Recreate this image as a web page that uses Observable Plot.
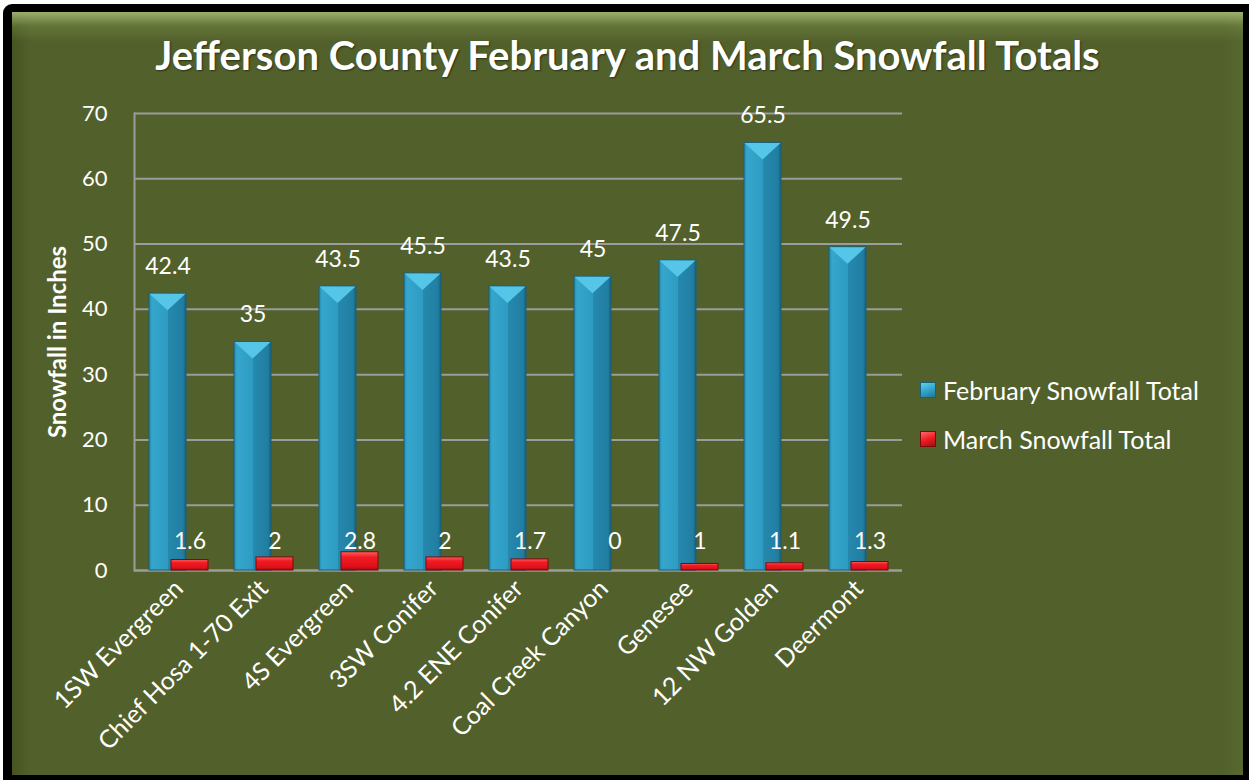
<!DOCTYPE html>
<html><head><meta charset="utf-8">
<script src="https://cdn.jsdelivr.net/npm/d3@7"></script>
<script src="https://cdn.jsdelivr.net/npm/@observablehq/plot@0.6"></script>
<style>
body{margin:0;background:#fff;width:1249px;height:780px;overflow:hidden;font-family:Lato,"Open Sans",sans-serif;position:relative;}
#frame{position:absolute;left:3px;top:4px;width:1246px;height:776px;background:#000;border-radius:9px 0 0 0;}
#panel{position:absolute;left:12px;top:12px;width:1231px;height:763px;
  background:
   linear-gradient(to bottom, rgba(170,190,120,0.85) 0px, rgba(130,150,80,0.35) 14px, rgba(0,0,0,0) 30px),
   linear-gradient(to right, rgba(60,75,25,0.6) 0px, rgba(0,0,0,0) 18px, rgba(0,0,0,0) 1210px, rgba(90,110,50,0.5) 1231px),
   #52612b;}
#title{position:absolute;left:12px;width:1231px;top:31px;text-align:center;color:#fff;font-weight:bold;font-size:40px;line-height:48px;text-shadow:1px 1px 2px rgba(0,0,0,0.5);}
#chart{position:absolute;left:0;top:100px;}
#legend{position:absolute;left:920px;top:375px;color:#fff;font-size:25px;}
#legend .item{display:flex;align-items:center;height:30px;margin-bottom:19px;}
#legend .sw{width:14px;height:14px;margin-right:7px;}
</style></head>
<body>
<div id="frame"></div>
<div id="panel"></div>
<div id="title">Jefferson County February and March Snowfall Totals</div>
<div id="chart"></div>
<div id="legend">
 <div class="item"><div class="sw" style="background:linear-gradient(160deg,#5fd0f0 0%,#37a9d0 45%,#1f7897 100%);border:1px solid #1a5f78"></div><span>February Snowfall Total</span></div>
 <div class="item"><div class="sw" style="background:linear-gradient(160deg,#ff6a6a 0%,#ee1c24 50%,#a80c10 100%);border:1px solid #7a0a0a"></div><span>March Snowfall Total</span></div>
</div>
<script>
const sites = ["1SW Evergreen","Chief Hosa 1-70 Exit","4S Evergreen","3SW Conifer","4.2 ENE Conifer","Coal Creek Canyon","Genesee","12 NW Golden","Deermont"];
const february = [42.4, 35, 43.5, 45.5, 43.5, 45, 47.5, 65.5, 49.5];
const march = [1.6, 2, 2.8, 2, 1.7, 0, 1, 1.1, 1.3];
const yTicks = [0, 10, 20, 30, 40, 50, 60, 70];

const rows = sites.map((s, i) => ({site: s, feb: february[i], mar: march[i]}));

const chart = Plot.plot({
  width: 1249, height: 670,
  marginLeft: 134, marginRight: 347, marginTop: 13, marginBottom: 200,
  style: {background: "transparent", color: "white", fontFamily: "Lato, sans-serif", fontSize: "22px"},
  x: {domain: sites, paddingInner: 0.566, paddingOuter: 0.283, label: null},
  y: {domain: [0, 70], label: null},
  marks: [
    Plot.gridY(yTicks, {stroke: "#9c9c9c", strokeOpacity: 1, strokeWidth: 2}),
    Plot.ruleY([0], {stroke: "#9c9c9c", strokeWidth: 2}),
    Plot.frame({anchor: "left", stroke: "#9c9c9c", strokeWidth: 2}),
    Plot.axisY({ticks: yTicks, tickSize: 0, tickPadding: 27, fontSize: 22, label: null}),
    Plot.axisX({tickSize: 0, tickRotate: -45, tickPadding: 14, fontSize: 25, label: null}),
    Plot.text(["Snowfall in Inches"], {frameAnchor: "left", textAnchor: "middle", rotate: -90, dx: -76, fontWeight: "bold", fontSize: 24, fill: "white"}),
    Plot.barY(rows, {x: "site", y: "feb", fill: "url(#gBlue)", stroke: "#1a5f78", strokeWidth: 1, dx: -11}),
    Plot.barY(rows.filter(d => d.mar > 0), {x: "site", y: "mar", fill: "url(#gRed)", stroke: "#7a0a0a", strokeWidth: 1, dx: 11}),
    Plot.text(rows, {x: "site", y: "feb", text: d => String(d.feb), dx: -11, dy: -27, fontSize: 23, fill: "white"}),
    Plot.text(rows, {x: "site", frameAnchor: "bottom", text: d => String(d.mar), dx: 11, dy: -22, fontSize: 23, fill: "white"})
  ]
});

const svg = d3.select(chart);
const defs = svg.insert("defs", ":first-child");
const gb = defs.append("linearGradient").attr("id", "gBlue").attr("x1", 0).attr("x2", 1).attr("y1", 0).attr("y2", 0);
[["0%", "#2688ad"], ["8%", "#36a6cc"], ["50%", "#2e9cc2"], ["50.1%", "#2689ae"], ["92%", "#217ea2"], ["100%", "#165f79"]]
  .forEach(([o, c]) => gb.append("stop").attr("offset", o).attr("stop-color", c));
const gr = defs.append("linearGradient").attr("id", "gRed").attr("x1", 0).attr("x2", 0).attr("y1", 0).attr("y2", 1);
[["0%", "#ff6060"], ["30%", "#f01c24"], ["80%", "#e01018"], ["100%", "#a00a0e"]]
  .forEach(([o, c]) => gr.append("stop").attr("offset", o).attr("stop-color", c));

// bevelled top caps derived from the rendered bars
const bars = svg.selectAll("g[aria-label=bar]").nodes();
if (bars.length) {
  const g = d3.select(bars[0]);
  g.selectAll("rect").each(function () {
    const r = d3.select(this);
    const x = +r.attr("x"), y = +r.attr("y"), w = +r.attr("width"), h = +r.attr("height");
    const dep = Math.min(17, h);
    g.append("polygon")
      .attr("points", `${x+0.5},${y+0.5} ${x+w-0.5},${y+0.5} ${x+w/2},${y+dep}`)
      .attr("fill", "#55c6e8").attr("stroke", "none");
  });
}
document.getElementById("chart").appendChild(chart);
</script>
</body></html>
